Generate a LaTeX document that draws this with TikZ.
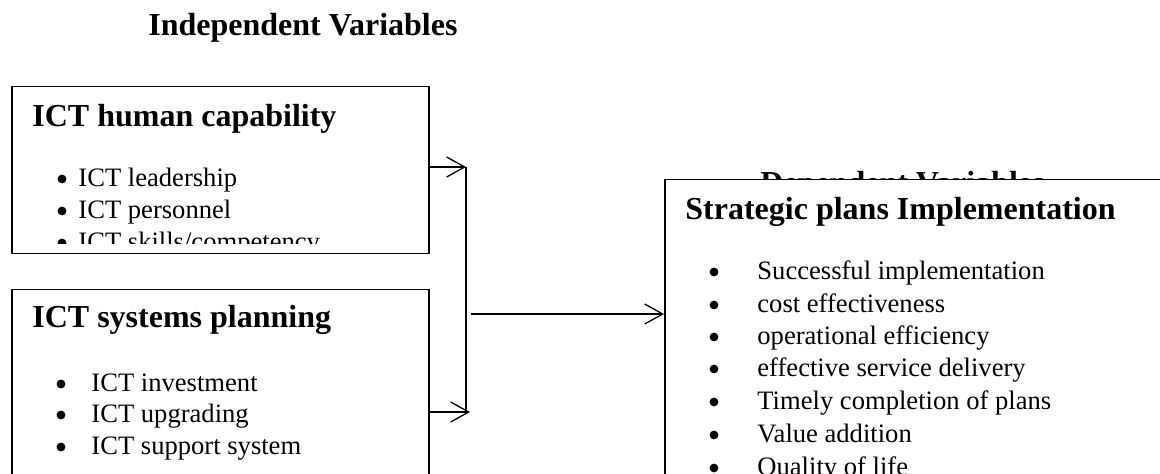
\documentclass[tikz,border=0pt]{standalone}
\usepackage{fontspec}
\setmainfont{Liberation Serif}
\usetikzlibrary{arrows.meta}
\begin{document}
\begin{tikzpicture}[x=0.5pt,y=-0.5pt,
  box/.style={draw, line width=0.75pt, fill=white, inner sep=0pt, anchor=north west},
  head/.style={anchor=base west, inner sep=0pt, font=\fontsize{16}{19}\selectfont\bfseries},
  item/.style={anchor=base west, inner sep=0pt, font=\fontsize{13.3}{16}\selectfont},
  dot/.style={circle, fill=black, inner sep=0pt, minimum size=4.4pt},
  conn/.style={line width=0.65pt, -{Straight Barb[length=9pt,width=10pt]}},
  link/.style={line width=0.65pt}]
\useasboundingbox (0,0) rectangle (1160,474);
\clip (0,0) rectangle (1160,474);

% titles
\node[head] (tind) at (148,36) {Independent Variables};
\node[head] (tdep) at (760,194) {Dependent Variables};

% boxes
\node[box, minimum width=208.5pt, minimum height=83.5pt] (b1) at (11,86) {};
\node[box, minimum width=208.5pt, minimum height=110pt] (b2) at (11,289) {};
\node[box, minimum width=270pt, minimum height=160pt] (b3) at (664,179) {};

% box 1 content
\node[head] (h1) at (32,127) {ICT human capability};
\begin{scope}
  \clip (11,86) rectangle (428,244);
  \node[dot] (d11) at (62,179) {};
  \node[item] (i11) at (78,187) {ICT leadership};
  \node[dot] (d12) at (62,211) {};
  \node[item] (i12) at (78,219) {ICT personnel};
  \node[dot] (d13) at (62,243) {};
  \node[item] (i13) at (78,251) {ICT skills/competency};
\end{scope}

% box 2 content
\node[head] (h2) at (32,328) {ICT systems planning};
\node[dot] (d21) at (61,384) {};
\node[item] (i21) at (91,392) {ICT investment};
\node[dot] (d22) at (61,415) {};
\node[item] (i22) at (91,423) {ICT upgrading};
\node[dot] (d23) at (61,447) {};
\node[item] (i23) at (91,455) {ICT support system};

% box 3 content
\node[head] (h3) at (685,220) {Strategic plans Implementation};
\node[dot] (d31) at (714,272) {};
\node[item] (i31) at (757,280) {Successful implementation};
\node[dot] (d32) at (714,305) {};
\node[item] (i32) at (757,313) {cost effectiveness};
\node[dot] (d33) at (714,337) {};
\node[item] (i33) at (757,345) {operational efficiency};
\node[dot] (d34) at (714,369) {};
\node[item] (i34) at (757,377) {effective service delivery};
\node[dot] (d35) at (714,402) {};
\node[item] (i35) at (757,410) {Timely completion of plans};
\node[dot] (d36) at (714,435) {};
\node[item] (i36) at (757,443) {Value addition};
\node[dot] (d37) at (714,468) {};
\node[item] (i37) at (757,476) {Quality of life};

% connectors
\coordinate (j1) at (466,167);
\coordinate (j2) at (466,412);
\coordinate (t2) at (470,412);
\coordinate (m) at (471,314);
\draw[conn] (b1.east |- j1) -- (j1);
\draw[conn] (b2.east |- t2) -- (t2);
\draw[link] (j1) -- (j2);
\draw[conn] (m) -- (b3.west |- m);
\end{tikzpicture}
\end{document}
